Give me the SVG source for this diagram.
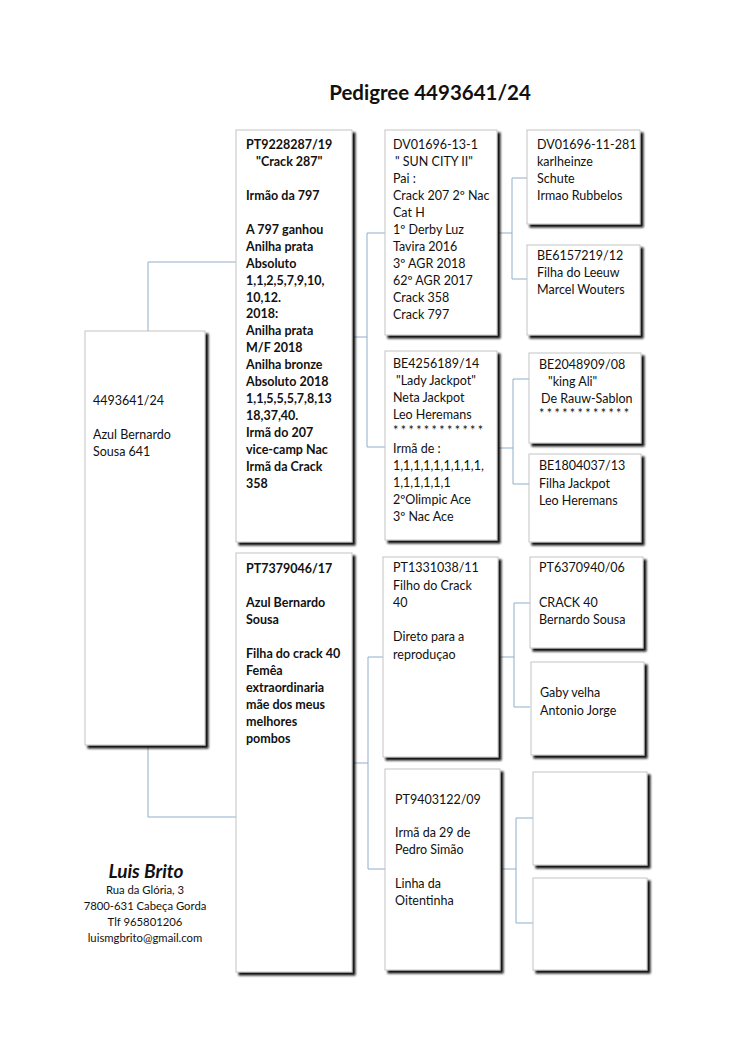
<svg xmlns="http://www.w3.org/2000/svg" width="750" height="1060" viewBox="0 0 750 1060">
<defs>
<filter id="sh" x="-10%" y="-10%" width="130%" height="130%">
<feDropShadow dx="3" dy="3" stdDeviation="1.1" flood-color="#111" flood-opacity="1"/>
</filter>
<style>
.box{fill:#fff;stroke:#c4c4c4;stroke-width:1;filter:url(#sh)}
.t{font-family:Lato,"Open Sans","Liberation Sans",sans-serif;font-size:12.5px;fill:#111}
.b{font-weight:bold}
.c{fill:none;stroke:#8eaecb;stroke-width:1}
.st{letter-spacing:2.4px}
</style>
</defs>
<rect width="750" height="1060" fill="#fff"/>
<text x="430" y="100" text-anchor="middle" class="t b" style="font-size:20.5px">Pedigree 4493641/24</text>

<g id="connectors">
<path class="c" d="M148,331V262H236M148,745V817H236"/>
<path class="c" d="M352,337H367M367,233V447M367,233H385M367,447H385"/>
<path class="c" d="M497,233H512M512,178V279M512,178H527M512,279H527"/>
<path class="c" d="M497,448H513M513,379V484M513,379H529M513,484H529"/>
<path class="c" d="M352,763H368M368,657V869M368,657H383M368,869H385"/>
<path class="c" d="M498,657H514M514,603V707M514,603H530M514,707H530"/>
<path class="c" d="M500,869H516M516,818V923M516,818H533M516,923H533"/>
</g>

<g id="root">
<rect class="box" x="85" y="331" width="120" height="414"/>
<text class="t" x="93" y="405">4493641/24<tspan x="93" dy="34">Azul Bernardo</tspan><tspan x="93" dy="17">Sousa 641</tspan></text>
</g>

<g id="sire">
<rect class="box" x="236" y="130" width="116" height="412"/>
<text class="t b" x="246" y="149">PT9228287/19<tspan x="256" dy="17">"Crack 287"</tspan><tspan x="246" dy="34">Irmão da 797</tspan><tspan x="246" dy="33.5">A 797 ganhou</tspan><tspan x="246" dy="17">Anilha prata</tspan><tspan x="246" dy="17">Absoluto</tspan><tspan x="246" dy="17">1,1,2,5,7,9,10,</tspan><tspan x="246" dy="17">10,12.</tspan><tspan x="246" dy="16.5">2018:</tspan><tspan x="246" dy="17">Anilha prata</tspan><tspan x="246" dy="17">M/F 2018</tspan><tspan x="246" dy="17">Anilha bronze</tspan><tspan x="246" dy="17">Absoluto 2018</tspan><tspan x="246" dy="17">1,1,5,5,5,7,8,13</tspan><tspan x="246" dy="17">18,37,40.</tspan><tspan x="246" dy="17">Irmã do 207</tspan><tspan x="246" dy="17">vice-camp Nac</tspan><tspan x="246" dy="17">Irmã da Crack</tspan><tspan x="246" dy="17">358</tspan></text>
</g>

<g id="dam">
<rect class="box" x="236" y="553" width="116" height="419"/>
<text class="t b" x="246" y="573">PT7379046/17<tspan x="246" dy="34">Azul Bernardo</tspan><tspan x="246" dy="17">Sousa</tspan><tspan x="246" dy="34">Filha do crack 40</tspan><tspan x="246" dy="17">Femêa</tspan><tspan x="246" dy="17">extraordinaria</tspan><tspan x="246" dy="17">mãe dos meus</tspan><tspan x="246" dy="17">melhores</tspan><tspan x="246" dy="17">pombos</tspan></text>
</g>

<g id="ss">
<rect class="box" x="385" y="130" width="112" height="205"/>
<text class="t" x="393" y="149">DV01696-13-1<tspan x="395" dy="17">" SUN CITY II"</tspan><tspan x="393" dy="17">Pai :</tspan><tspan x="393" dy="17">Crack 207 2º Nac</tspan><tspan x="393" dy="17">Cat H</tspan><tspan x="393" dy="17">1º Derby Luz</tspan><tspan x="393" dy="17">Tavira 2016</tspan><tspan x="393" dy="17">3º AGR 2018</tspan><tspan x="393" dy="17">62º AGR 2017</tspan><tspan x="393" dy="17">Crack 358</tspan><tspan x="393" dy="16.5">Crack 797</tspan></text>
</g>

<g id="sd">
<rect class="box" x="385" y="351" width="112" height="189"/>
<text class="t" x="393" y="368">BE4256189/14<tspan x="396" dy="17">"Lady Jackpot"</tspan><tspan x="393" dy="17">Neta Jackpot</tspan><tspan x="393" dy="17">Leo Heremans</tspan><tspan x="393" dy="16" class="st">************</tspan><tspan x="393" dy="18">Irmã de :</tspan><tspan x="393" dy="17">1,1,1,1,1,1,1,1,1,</tspan><tspan x="393" dy="17">1,1,1,1,1,1</tspan><tspan x="393" dy="17">2ºOlimpic Ace</tspan><tspan x="393" dy="17">3º Nac Ace</tspan></text>
</g>

<g id="ds">
<rect class="box" x="383" y="557" width="115" height="200"/>
<text class="t" x="393" y="572">PT1331038/11<tspan x="393" dy="17.5">Filho do Crack</tspan><tspan x="393" dy="17">40</tspan><tspan x="393" dy="34">Direto para a</tspan><tspan x="393" dy="18">reproduçao</tspan></text>
</g>

<g id="dd">
<rect class="box" x="385" y="769" width="115" height="201"/>
<text class="t" x="395" y="804">PT9403122/09<tspan x="395" dy="33">Irmã da 29 de</tspan><tspan x="395" dy="17">Pedro Simão</tspan><tspan x="395" dy="34">Linha da</tspan><tspan x="395" dy="17">Oitentinha</tspan></text>
</g>

<g id="sss">
<rect class="box" x="527" y="130" width="113" height="94"/>
<text class="t" x="537" y="149">DV01696-11-281<tspan x="537" dy="17">karlheinze</tspan><tspan x="537" dy="17">Schute</tspan><tspan x="537" dy="17">Irmao Rubbelos</tspan></text>
</g>

<g id="ssd">
<rect class="box" x="527" y="245" width="113" height="90"/>
<text class="t" x="537" y="260">BE6157219/12<tspan x="537" dy="17">Filha do Leeuw</tspan><tspan x="537" dy="17">Marcel Wouters</tspan></text>
</g>

<g id="sds">
<rect class="box" x="529" y="353" width="112" height="90"/>
<text class="t" x="539" y="369">BE2048909/08<tspan x="548" dy="17">"king Ali"</tspan><tspan x="541" dy="17">De Rauw-Sablon</tspan><tspan x="539" dy="15" class="st">************</tspan></text>
</g>

<g id="sdd">
<rect class="box" x="529" y="454" width="112" height="88"/>
<text class="t" x="539" y="470">BE1804037/13<tspan x="539" dy="18">Filha Jackpot</tspan><tspan x="539" dy="17">Leo Heremans</tspan></text>
</g>

<g id="dss">
<rect class="box" x="530" y="557" width="113" height="91"/>
<text class="t" x="539" y="572">PT6370940/06<tspan x="539" dy="35">CRACK 40</tspan><tspan x="539" dy="17">Bernardo Sousa</tspan></text>
</g>

<g id="dsd">
<rect class="box" x="531" y="662" width="113" height="93"/>
<text class="t" x="540" y="697">Gaby velha<tspan x="540" dy="18">Antonio Jorge</tspan></text>
</g>

<g id="dds">
<rect class="box" x="533" y="772" width="114" height="93"/>
</g>

<g id="ddd">
<rect class="box" x="533" y="878" width="114" height="92"/>
</g>

<g id="footer">
<text class="t b" x="146" y="878" text-anchor="middle" style="font-size:19px;font-style:italic">Luis Brito</text>
<text class="t" x="145" y="894" text-anchor="middle" style="font-size:11.3px">Rua da Glória, 3<tspan x="145" dy="16">7800-631 Cabeça Gorda</tspan><tspan x="145" dy="16">Tlf 965801206</tspan><tspan x="145" dy="16">luismgbrito@gmail.com</tspan></text>
</g>
</svg>
